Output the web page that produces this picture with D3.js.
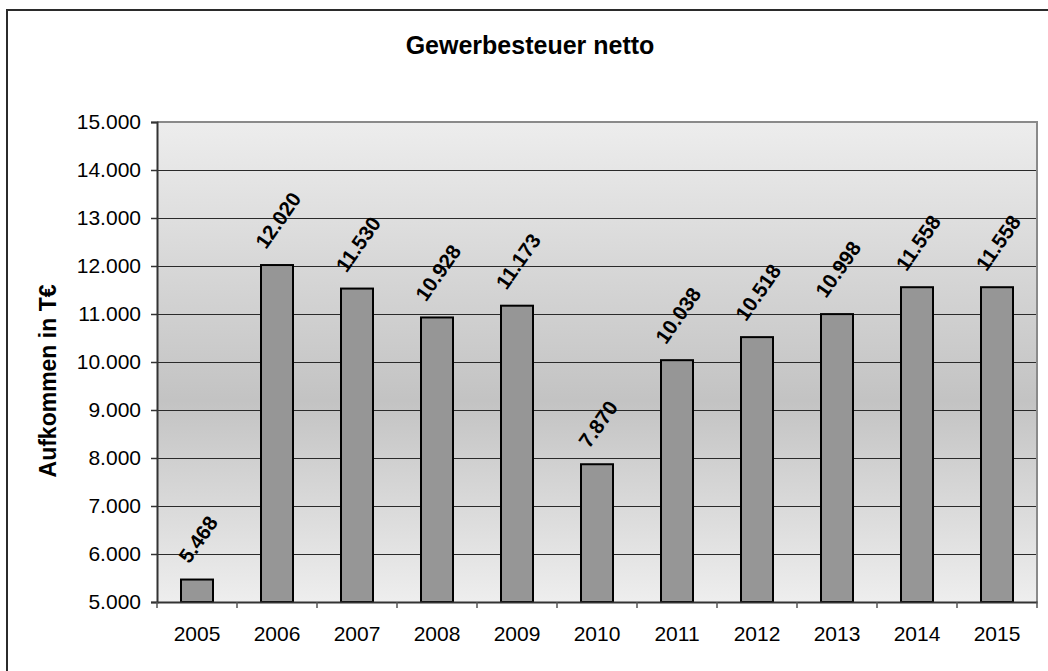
<!DOCTYPE html>
<html>
<head>
<meta charset="utf-8">
<script src="https://cdn.jsdelivr.net/npm/d3@7"></script>
<style>
  body { margin: 0; background: #fff; }
  text { font-family: "Liberation Sans", Arial, sans-serif; fill: #000; }
</style>
</head>
<body>
<svg id="chart" width="1048" height="671"></svg>
<script>
// data
var years = ["2005", "2006", "2007", "2008", "2009", "2010", "2011", "2012", "2013", "2014", "2015"];
var values = [5468, 12020, 11530, 10928, 11173, 7870, 10038, 10518, 10998, 11558, 11558];
var yTicks = [5000, 6000, 7000, 8000, 9000, 10000, 11000, 12000, 13000, 14000, 15000];

var svg = d3.select("#chart");

// plot area (note: "top" is taken by window.top)
var plotLeft = 157, plotRight = 1037, plotTop = 122, plotBottom = 602;

var de = d3.formatLocale({ decimal: ",", thousands: ".", grouping: [3], currency: ["", " €"] });
var fmt = de.format(",.0f");

var x = d3.scaleBand().domain(years).range([plotLeft, plotRight]);
var y = d3.scaleLinear().domain([5000, 15000]).range([plotBottom, plotTop]);

// outer chart border (right / bottom edge run off the picture)
svg.append("rect")
  .attr("x", 7).attr("y", 10)
  .attr("width", 1100).attr("height", 700)
  .attr("fill", "#fff")
  .attr("stroke", "#2b2b2b")
  .attr("stroke-width", 2);

// plot background gradient
var grad = svg.append("defs").append("linearGradient")
  .attr("id", "bg").attr("x1", 0).attr("y1", 0).attr("x2", 0).attr("y2", 1);
grad.append("stop").attr("offset", "0%").attr("stop-color", "#ededed");
grad.append("stop").attr("offset", "58%").attr("stop-color", "#c3c3c3");
grad.append("stop").attr("offset", "100%").attr("stop-color", "#eeeeee");

svg.append("rect")
  .attr("x", plotLeft).attr("y", plotTop)
  .attr("width", plotRight - plotLeft).attr("height", plotBottom - plotTop)
  .attr("fill", "url(#bg)");

// gridlines
svg.append("g")
  .selectAll("line")
  .data(yTicks.slice(1, -1))
  .enter()
  .append("line")
  .attr("x1", plotLeft).attr("x2", plotRight)
  .attr("y1", d => Math.round(y(d)) + 0.5).attr("y2", d => Math.round(y(d)) + 0.5)
  .attr("stroke", "#2a2a2a")
  .attr("stroke-width", 1);

// top and right frame of the plot
svg.append("path")
  .attr("d", "M" + plotLeft + "," + plotTop + "H" + plotRight + "V" + plotBottom)
  .attr("fill", "none")
  .attr("stroke", "#8a8a8a")
  .attr("stroke-width", 2);

// bars
var bw = x.bandwidth() * 0.4;
svg.append("g")
  .selectAll("rect")
  .data(values)
  .enter()
  .append("rect")
  .attr("x", (d, i) => x(years[i]) + x.bandwidth() / 2 - bw / 2)
  .attr("y", d => y(d))
  .attr("width", bw)
  .attr("height", d => plotBottom - y(d))
  .attr("fill", "#969696")
  .attr("stroke", "#000")
  .attr("stroke-width", 2);

// y axis
var yAxis = svg.append("g")
  .attr("transform", "translate(" + plotLeft + ",0)")
  .call(d3.axisLeft(y).tickValues(yTicks).tickFormat(fmt).tickSize(6).tickPadding(10));
yAxis.select(".domain").attr("stroke", "#333").attr("stroke-width", 2);
yAxis.selectAll(".tick line").attr("stroke", "#333").attr("stroke-width", 1.5);
yAxis.selectAll("text")
  .style("font-size", "21px")
  .style("font-family", "'Liberation Sans', Arial, sans-serif")
  .attr("fill", "#000");

// x axis, ticks between the categories
var xAxis = svg.append("g")
  .attr("transform", "translate(0," + plotBottom + ")")
  .call(d3.axisBottom(x).tickSize(0).tickPadding(24));
xAxis.select(".domain").attr("stroke", "#333").attr("stroke-width", 2);
xAxis.selectAll("text")
  .style("font-size", "21px")
  .style("font-family", "'Liberation Sans', Arial, sans-serif")
  .attr("fill", "#000");
svg.append("g")
  .selectAll("line")
  .data(years.concat(["end"]))
  .enter()
  .append("line")
  .attr("x1", (d, i) => plotLeft + i * x.bandwidth())
  .attr("x2", (d, i) => plotLeft + i * x.bandwidth())
  .attr("y1", plotBottom).attr("y2", plotBottom + 6)
  .attr("stroke", "#555")
  .attr("stroke-width", 1.5);

// value labels, rotated
var ang = 55 * Math.PI / 180;
var fs = 20.5;
svg.append("g")
  .selectAll("text")
  .data(values)
  .enter()
  .append("text")
  .text(d => fmt(d))
  .style("font-size", fs + "px")
  .style("font-weight", "bold")
  .attr("text-anchor", "middle")
  .attr("dy", "0.36em")
  .attr("transform", function (d, i) {
    var L = this.getComputedTextLength();
    var h = fs * 0.72;
    var halfH = (L * Math.sin(ang) + h * Math.cos(ang)) / 2;
    var cx = x(years[i]) + x.bandwidth() / 2 + 1;
    var cy = y(d) - 15 - halfH;
    return "translate(" + cx + "," + cy + ") rotate(-55)";
  });

// title
svg.append("text")
  .attr("x", 530).attr("y", 54)
  .attr("text-anchor", "middle")
  .style("font-size", "25px")
  .style("font-weight", "bold")
  .text("Gewerbesteuer netto");

// y axis title
svg.append("text")
  .attr("transform", "translate(56,381) rotate(-90)")
  .attr("text-anchor", "middle")
  .style("font-size", "23px")
  .style("font-weight", "bold")
  .text("Aufkommen in T€");
</script>
</body>
</html>
